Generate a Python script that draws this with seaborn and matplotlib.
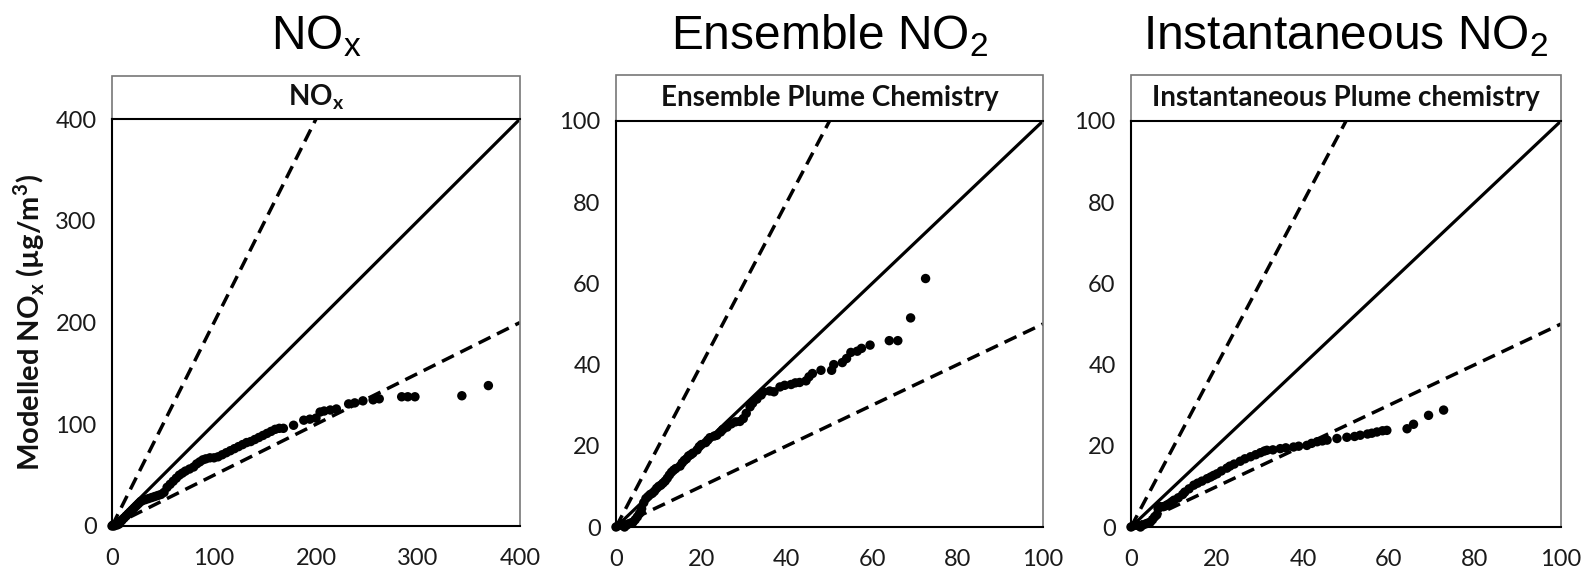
import matplotlib
matplotlib.use("Agg")
import matplotlib.pyplot as plt
import seaborn as sns
import pandas as pd
import numpy as np
from matplotlib.patches import Rectangle

sns.set_theme(style="white")
plt.rcParams['font.family'] = ['Lato', 'DejaVu Sans']
plt.rcParams['mathtext.fontset'] = 'custom'
plt.rcParams['mathtext.rm'] = 'Liberation Sans'
plt.rcParams['mathtext.bf'] = 'Lato:bold'
plt.rcParams['mathtext.it'] = 'Liberation Sans:italic'

# ---------------- data ----------------
panel_titles = ["NO$_\\mathrm{x}$", "Ensemble NO$_\\mathrm{2}$", "Instantaneous NO$_\\mathrm{2}$"]
strip_titles = ["NO$_\\mathbf{x}$", "Ensemble Plume Chemistry", "Instantaneous Plume chemistry"]
axis_max = [400, 100, 100]
tick_steps = [100, 20, 20]
ref_ratios = [2.0, 1.0, 0.5]

nox_obs = [0, 1, 2, 3, 4, 5, 6, 7, 8, 9, 10, 12, 14, 16, 18, 20, 22, 24, 26, 28, 30, 33, 36, 39,
           42, 45, 48, 51, 54, 57, 60, 63, 66, 69, 72, 76, 80, 83, 86, 89, 92, 96, 100, 104, 108,
           112, 116, 120, 124, 128, 132, 136, 140, 144, 148, 152, 156, 160, 164, 168, 178, 188,
           194, 200, 204, 208, 214, 220, 232, 238, 246, 256, 262, 284, 290, 297, 343, 369]
nox_mod = [0, 1, 0, 1, 2, 1, 3, 2, 4, 5, 6, 8, 10, 12, 14, 16, 18, 20, 22, 24, 25, 26, 27, 28,
           29, 30, 31, 33, 38, 41, 44, 47, 50, 52, 54, 56, 58, 61, 63, 65, 66, 67, 67, 68, 70,
           72, 74, 76, 78, 80, 82, 83, 85, 87, 89, 91, 93, 95, 96, 96, 99, 104,
           105, 106, 112, 113, 114, 115, 120, 121, 123, 124, 125, 127, 127, 127, 128, 138]

ens_obs = [0, 0.5, 1, 1.5, 2, 2.5, 3, 3.5, 4, 4.5, 5, 5.5, 6, 6.5, 7, 7.5, 8, 8.5, 9, 9.5, 10,
           10.5, 11, 11.5, 12, 12.5, 13, 13.5, 14, 15, 15.5, 16, 16.5, 17, 17.5, 18, 19, 19.5,
           20, 21, 21.5, 22, 23, 23.6, 24.5, 25, 26, 27, 28, 29, 29.8, 30.5, 31.4, 32, 33, 34,
           34.5, 36, 37, 38.4, 39.5, 41, 42, 43, 44.5, 45.2, 46, 48, 50.5, 51, 53, 54, 55, 56.5,
           57.5, 59.5, 64, 66, 69, 72.5]
ens_mod = [0, 0.3, 0.5, 0.8, 0, 0.5, 0.8, 1, 1.2, 1.8, 2.5, 3.3, 4.5, 6, 7, 7.5, 8, 8.3, 8.8,
           9.5, 10, 10.3, 10.8, 11.3, 12, 12.8, 13.5, 14, 14.4, 15, 15.8, 16.4, 16.8, 17.5, 17.8,
           18.2, 19, 19.8, 20.3, 20.8, 21.4, 22, 22.4, 22.6, 23.4, 24, 24.6, 25.4, 25.9, 26, 26.7,
           28, 29.6, 30.5, 31.5, 32.5, 33.3, 33.5, 33.3, 34.5, 34.9, 35.1, 35.5, 35.6, 36, 37,
           37.8, 38.6, 38.6, 40, 40.5, 41.5, 43, 43.3, 44, 44.8, 45.9, 45.9, 51.5, 61.2]

ins_obs = [0, 0.5, 1, 1.5, 2.2, 2.8, 3.5, 4, 4.5, 5, 5.5, 6, 6.3, 6.8, 7.5, 8, 8.5, 9, 9.5, 10,
           11, 12, 12.5, 13.5, 14.6, 15.5, 16.5, 17.7, 18.5, 19.2, 20, 21, 22.3, 23, 24, 25.4,
           26.5, 27.8, 29, 30.1, 31, 31.6, 33, 34.7, 36, 37.8, 39, 40.9, 42, 43.3, 44.5, 45.6,
           47.9, 50.2, 52, 53.3, 55, 56, 57.2, 58.5, 59.5, 64.2, 65.7, 69.2, 72.7]
ins_mod = [0, 0.3, 0.5, 0.4, 0, 0.5, 0.8, 1, 1.2, 1.8, 2.5, 3, 4.5, 5, 5, 5.2, 5.5, 5.8, 6.2,
           6.6, 7.2, 8, 8.6, 9.4, 10.3, 10.8, 11.3, 11.9, 12.3, 12.7, 13.1, 13.8, 14.5, 15, 15.5,
           16.2, 16.8, 17.3, 17.8, 18.3, 18.7, 18.9, 19, 19.3, 19.5, 19.7, 19.9, 20.1, 20.6, 21,
           21.2, 21.4, 21.8, 22.1, 22.3, 22.6, 22.9, 23.1, 23.4, 23.7, 23.8, 24.2, 25.3, 27.5, 28.8]

series = [(nox_obs, nox_mod), (ens_obs, ens_mod), (ins_obs, ins_mod)]

# ---------------- figure ----------------
W, H = 1586, 573
fig = plt.figure(figsize=(W / 100, H / 100), dpi=100)

axes_px = [(112, 520, 119, 526), (616, 1043, 121, 527), (1131, 1561, 121, 527)]
strip_top_px = [76, 75, 75]

for i, (l, r, t, b) in enumerate(axes_px):
    ax = fig.add_axes([l / W, 1 - b / H, (r - l) / W, (b - t) / H])
    obs, mod = series[i]
    df = pd.DataFrame({"obs": obs, "mod": mod})
    m = axis_max[i]
    for ratio in ref_ratios:
        xs = [0, m]
        ys = [0, m * ratio]
        if ratio == 1.0:
            ax.plot(xs, ys, color="black", lw=2.3, solid_capstyle="butt", zorder=2)
        else:
            ax.plot(xs, ys, color="black", lw=2.5, dashes=(3.8, 2.1), zorder=2)
    sns.scatterplot(data=df, x="obs", y="mod", ax=ax, color="black", s=46,
                    edgecolor="none", zorder=3, clip_on=False)
    ax.set_xlim(0, m)
    ax.set_ylim(0, m)
    ticks = list(range(0, m + 1, tick_steps[i]))
    ax.set_xticks(ticks)
    ax.set_yticks(ticks)
    ax.set_xlabel("")
    ax.set_ylabel("")
    ax.tick_params(axis="both", direction="out", length=7, width=1.3, color="black",
                   labelsize=17, labelcolor="#1a1a1a", pad=4)
    ax.tick_params(axis="x", pad=9)
    for s in ["left", "bottom"]:
        ax.spines[s].set_color("black")
        ax.spines[s].set_linewidth(1.5)
    ax.spines["top"].set_color("black")
    ax.spines["top"].set_linewidth(1.5)
    ax.spines["right"].set_color("#777777")
    ax.spines["right"].set_linewidth(1.2)
    # strip box above the axes
    sh = (t - strip_top_px[i]) / (b - t)
    rect = Rectangle((0, 1), 1, sh, transform=ax.transAxes, fill=False,
                     edgecolor="#777777", lw=1.2, clip_on=False)
    ax.add_patch(rect)
    ax.text(0.5, 1 + sh / 2, strip_titles[i], transform=ax.transAxes, ha="center",
            va="center", fontsize=20, fontweight="bold", color="#111111")
    fig.text((l + r) / 2 / W, 1 - 36 / H, panel_titles[i], ha="center", va="center",
             fontsize=34.5, family="Liberation Sans", color="black")
    if i == 0:
        ax.set_ylabel("Modelled NO$_\\mathbf{x}$ (µg/m$^\\mathbf{3}$)", fontsize=21,
                      fontweight="bold", color="#111111", labelpad=6)

fig.savefig("out.png", dpi=100)
